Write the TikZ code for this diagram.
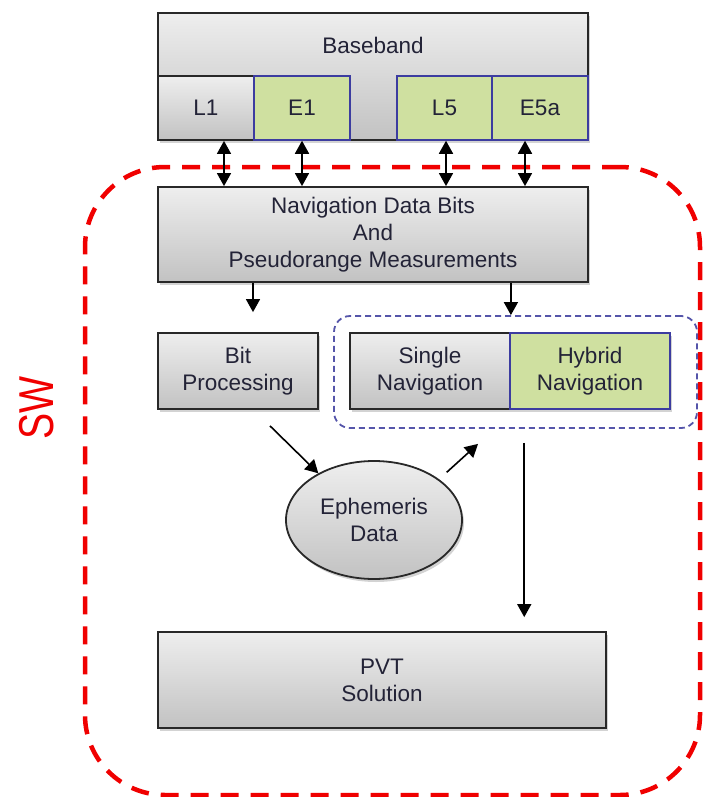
\documentclass[tikz,border=0pt]{standalone}
\usepackage{fontspec}
\setmainfont{Liberation Sans}
\usetikzlibrary{arrows.meta,shapes.geometric,shadows}
\definecolor{boxtop}{RGB}{238,238,238}
\definecolor{boxbot}{RGB}{194,194,194}
\definecolor{grn}{RGB}{207,224,160}
\definecolor{gborder}{RGB}{60,60,160}
\definecolor{txt}{RGB}{35,35,55}
\definecolor{edge}{RGB}{40,40,40}
\definecolor{swred}{RGB}{240,0,0}
\definecolor{grpc}{RGB}{85,85,170}
\begin{document}
\begin{tikzpicture}[x=1pt,y=-1pt,
 every node/.style={font=\fontsize{22.5}{27}\selectfont, text=txt, inner sep=0pt, align=center},
 shad/.style={drop shadow={shadow xshift=2pt,shadow yshift=-3pt,opacity=0.35}},
 graybox/.style={rectangle, draw=edge, line width=1.8pt, top color=boxtop, bottom color=boxbot},
 grayfill/.style={draw=edge, line width=1.8pt, top color=boxtop, bottom color=boxbot},
 greenbox/.style={rectangle, draw=gborder, line width=1.5pt, fill=grn},
 arr/.style={draw=black, line width=1.6pt, -{Triangle[length=13pt,width=14pt]}},
 darr/.style={draw=black, line width=1.6pt, {Triangle[length=13pt,width=14pt]}-{Triangle[length=13pt,width=14pt]}},
]
\useasboundingbox (0,0) rectangle (709,797);

% SW region
\node[draw=swred, line width=4.5pt, dash pattern=on 18pt off 12pt, rounded corners=80pt,
      minimum width=615, minimum height=628] (swbox) at (392.5,481) {};
\node[text=swred, rotate=90, font=\fontsize{49}{49}\selectfont] (swl) at (37,408) {\scalebox{0.8}[1]{SW}};

% Baseband
\node[graybox, shad, minimum width=430, minimum height=127] (bb) at (373,76.5) {};
\node (bbt) at (373,45) {Baseband};
\node[graybox, minimum width=96, minimum height=64] (L1) at (206,108) {L1};
\node[greenbox, minimum width=96, minimum height=64] (E1) at (302,108) {E1};
\node[greenbox, minimum width=95, minimum height=64] (L5) at (444.5,108) {L5};
\node[greenbox, minimum width=96, minimum height=64] (E5a) at (540,108) {E5a};

% Navigation data
\node[graybox, shad, minimum width=430, minimum height=95] (nav) at (373,234.5)
  {Navigation Data Bits\\And\\Pseudorange Measurements};

% middle row
\node[graybox, shad, minimum width=160, minimum height=76] (bit) at (238,371) {Bit\\Processing};
\node[draw=grpc, line width=1.8pt, dash pattern=on 6pt off 4pt, rounded corners=16pt,
      minimum width=363, minimum height=112] (grp) at (515.5,372) {};
\node[graybox, shad, minimum width=160, minimum height=76] (single) at (430,371) {Single\\Navigation};
\node[greenbox, shad, minimum width=160, minimum height=76] (hybrid) at (590,371) {Hybrid\\Navigation};

% ephemeris
\node[grayfill, ellipse, shad, minimum width=176, minimum height=118] (eph) at (374,520) {Ephemeris\\Data};

% PVT
\node[graybox, shad, minimum width=448, minimum height=96] (pvt) at (382,680) {PVT\\Solution};

% connectors
\draw[darr] ([xshift=18pt]L1.south) -- ([xshift=18pt]L1.south |- nav.north);
\draw[darr] (E1.south) -- (E1.south |- nav.north);
\draw[darr] ([xshift=1.5pt]L5.south) -- ([xshift=1.5pt]L5.south |- nav.north);
\draw[darr] ([xshift=-15pt]E5a.south) -- ([xshift=-15pt]E5a.south |- nav.north);

\coordinate (c1) at ([xshift=15pt]bit.north);
\draw[arr] (c1 |- nav.south) -- ([yshift=20pt]c1);
\draw[arr] (single.north east |- nav.south) -- (single.north east |- grp.north);
\draw[arr] ([shift={(32pt,-16pt)}]bit.south) -- (eph.140);
\draw[arr] ([shift={(23pt,-2pt)}]eph.45) -- ([shift={(48pt,-34pt)}]single.south);
\coordinate (lx) at ([xshift=15pt]hybrid.south west);
\draw[arr, shorten <=14pt, shorten >=14pt] (lx |- grp.south) -- (lx |- pvt.north);
\end{tikzpicture}
\end{document}
